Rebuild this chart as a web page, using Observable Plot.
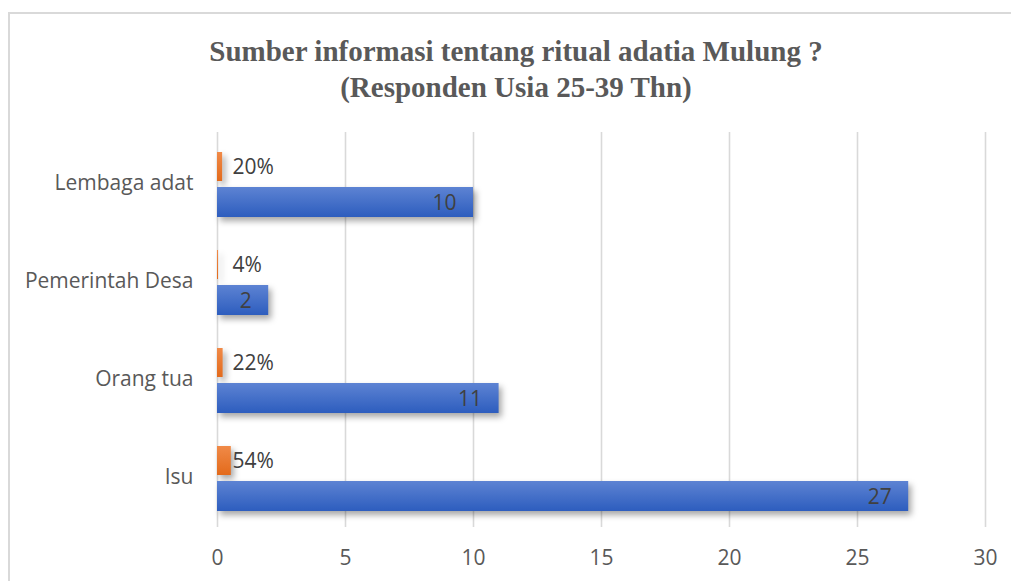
<!DOCTYPE html>
<html>
<head>
<meta charset="utf-8">
<script src="https://cdn.jsdelivr.net/npm/d3@7"></script>
<script src="https://cdn.jsdelivr.net/npm/@observablehq/plot@0.6"></script>
<style>
  html, body { margin: 0; padding: 0; background: #fff; overflow: hidden; }
  #wrap { position: relative; width: 1011px; height: 581px; overflow: hidden; }
  #frame { position: absolute; left: 8px; top: 12px; width: 1100px; height: 700px; border: 2px solid #d9d9d9; box-sizing: border-box; }
  #title { position: absolute; left: 16px; top: 33px; width: 1000px; text-align: center;
    font-family: "Liberation Serif", "Times New Roman", serif; font-weight: bold; font-size: 29px;
    line-height: 36px; color: #595959; }
  #chart { position: absolute; left: 0; top: 120px; }
</style>
</head>
<body>
<div id="wrap">
  <div id="frame"></div>
  <div id="title">Sumber informasi tentang ritual adatia Mulung ?<br>(Responden Usia 25-39 Thn)</div>
  <div id="chart"></div>
</div>
<script>
const categories = ["Lembaga adat", "Pemerintah Desa", "Orang tua", "Isu"];
const counts = [10, 2, 11, 27];
const percents = [0.20, 0.04, 0.22, 0.54];
const xTicks = [0, 5, 10, 15, 20, 25, 30];

const rows = categories.map((c, i) => ({cat: c, count: counts[i], pct: percents[i]}));
const font = "'Open Sans', 'Noto Sans', sans-serif";

const plot = Plot.plot({
  width: 1011,
  height: 461,
  marginLeft: 217,
  marginRight: 26,
  marginTop: 12,
  marginBottom: 54,
  style: {fontFamily: font, fontSize: "21px", color: "#595959", background: "transparent"},
  x: {domain: [0, 30], ticks: xTicks, tickSize: 0, tickPadding: 23, label: null},
  y: {domain: categories, padding: 0, tickSize: 0, tickPadding: 24, label: null},
  marks: [
    Plot.ruleX(xTicks, {stroke: "#d9d9d9", strokeWidth: 1.6}),
    Plot.barX(rows, {y: "cat", x: "pct", fill: "url(#orangeGrad)", insetTop: 18, insetBottom: 51}),
    Plot.barX(rows, {y: "cat", x: "count", fill: "url(#blueGrad)", insetTop: 53, insetBottom: 15}),
    Plot.text(rows, {y: "cat", x: "count", text: d => String(d.count), textAnchor: "end", dx: -17, dy: 20, fill: "#404040", fontSize: 21}),
    Plot.text(rows, {y: "cat", x: 0, text: d => d3.format(".0%")(d.pct), textAnchor: "start", dx: 15, dy: -16, fill: "#404040", fontSize: 21})
  ]
});

const svg = d3.select(plot);
const defs = svg.insert("defs", ":first-child");
const bg = defs.append("linearGradient").attr("id", "blueGrad").attr("x1", 0).attr("y1", 0).attr("x2", 0).attr("y2", 1);
bg.append("stop").attr("offset", "0%").attr("stop-color", "#5d83d3");
bg.append("stop").attr("offset", "100%").attr("stop-color", "#2d5dbe");
const og = defs.append("linearGradient").attr("id", "orangeGrad").attr("x1", 0).attr("y1", 0).attr("x2", 0).attr("y2", 1);
og.append("stop").attr("offset", "0%").attr("stop-color", "#f08a48");
og.append("stop").attr("offset", "100%").attr("stop-color", "#e36a1b");
svg.selectAll("g[aria-label='bar']").style("filter", "drop-shadow(3px 4px 3px rgba(0,0,0,0.35))");
svg.selectAll("g[aria-label='y-axis tick label'] text, g[aria-label='x-axis tick label'] text").attr("fill", "#595959");

document.getElementById("chart").appendChild(plot);
</script>
</body>
</html>
